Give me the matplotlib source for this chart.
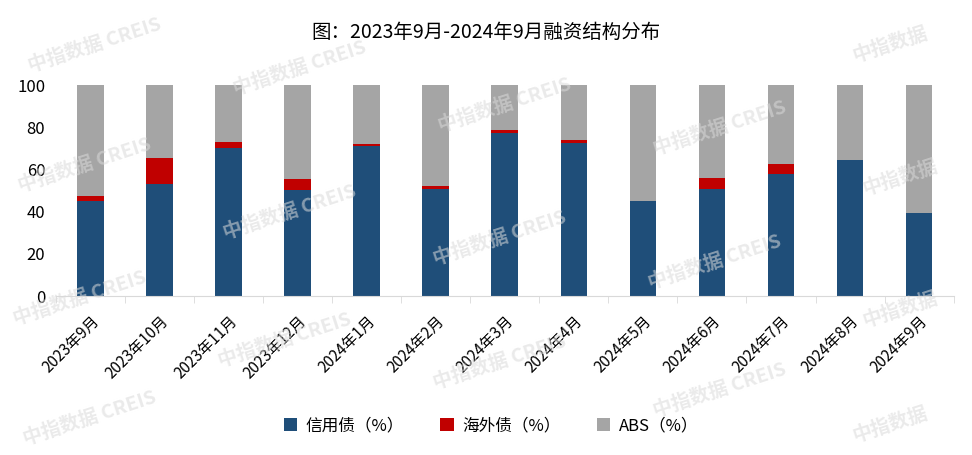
import matplotlib
matplotlib.use("Agg")
import matplotlib.pyplot as plt
import numpy as np

plt.rcParams["font.family"] = ["Noto Sans CJK SC", "DejaVu Sans"]

months = ["2023年9月", "2023年10月", "2023年11月", "2023年12月", "2024年1月",
          "2024年2月", "2024年3月", "2024年4月", "2024年5月", "2024年6月",
          "2024年7月", "2024年8月", "2024年9月"]
credit = [45.0, 53.1, 70.3, 50.4, 71.1, 50.7, 77.1, 72.5, 45.0, 50.7, 57.8, 64.6, 39.3]
overseas = [2.4, 12.3, 2.7, 5.2, 0.9, 1.4, 1.6, 1.4, 0.0, 5.2, 4.8, 0.0, 0.0]
abs_share = [100 - c - o for c, o in zip(credit, overseas)]

BLUE = "#1F4E79"
RED = "#C00000"
GRAY = "#A5A5A5"

fig = plt.figure(figsize=(9.72, 4.55), dpi=100)
ax = fig.add_axes([0.058, 0.349, 0.923, 0.464])

x = np.arange(len(months))
w = 0.39
ax.bar(x, credit, w, color=BLUE, label="信用债（%）", zorder=2)
ax.bar(x, overseas, w, bottom=credit, color=RED, label="海外债（%）", zorder=2)
bottom2 = [c + o for c, o in zip(credit, overseas)]
ax.bar(x, abs_share, w, bottom=bottom2, color=GRAY, label="ABS（%）", zorder=2)

ax.set_xlim(-0.5, len(months) - 0.5)
ax.set_ylim(0, 100)
ax.set_yticks(range(0, 101, 20))
ax.tick_params(axis="y", length=0, labelsize=12, pad=8)

# category boundary ticks
ax.set_xticks(x)
ax.set_xticklabels(months, rotation=45, ha="right", rotation_mode="anchor", fontsize=11)
ax.set_xticks(np.arange(-0.5, len(months)), minor=True)
ax.tick_params(axis="x", which="major", length=0, pad=12)
ax.tick_params(axis="x", which="minor", length=5, color="#D9D9D9")

for s in ["top", "right", "left"]:
    ax.spines[s].set_visible(False)
ax.spines["bottom"].set_color("#D9D9D9")

fig.text(0.5, 0.928, "图：2023年9月-2024年9月融资结构分布", ha="center", va="center", fontsize=14)

fig.legend(loc="center", bbox_to_anchor=(0.505, 0.064), ncol=3, frameon=False,
           fontsize=12, handlelength=0.8, handleheight=0.8, columnspacing=2.2,
           handletextpad=0.5)

# watermarks
marks = [(95, 45, "中指数据 CREIS"), (300, 68, "中指数据 CREIS"), (505, 105, "中指数据 CREIS"),
         (720, 128, "中指数据 CREIS"), (890, 45, "中指数据"), (85, 165, "中指数据 CREIS"),
         (290, 212, "中指数据 CREIS"), (500, 238, "中指数据 CREIS"), (715, 262, "中指数据 CREIS"),
         (900, 178, "中指数据"), (80, 298, "中指数据 CREIS"), (285, 340, "中指数据 CREIS"),
         (500, 362, "中指数据 CREIS"), (720, 390, "中指数据 CREIS"), (900, 310, "中指数据"),
         (90, 418, "中指数据 CREIS"), (890, 425, "中指数据")]
for mx, my, mt in marks:
    fig.text(mx / 972, 1 - my / 455, mt, ha="center", va="center", fontsize=14,
             fontweight="bold", color="#DADADA", alpha=0.55, rotation=18, zorder=10)

fig.savefig("out.png", dpi=100)
